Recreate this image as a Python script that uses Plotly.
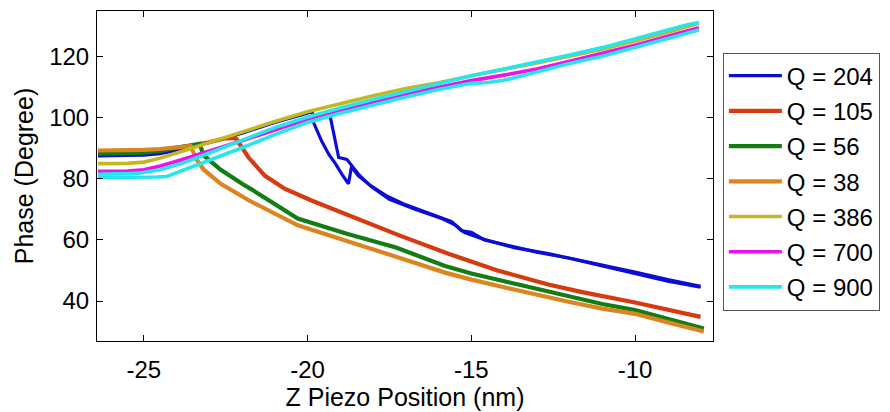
import plotly.graph_objects as go

# ---------------- data ----------------
q_labels = ["Q = 204", "Q = 105", "Q = 56", "Q = 38", "Q = 386", "Q = 700", "Q = 900"]
colors = ["#0c0cd6", "#d83a10", "#137d13", "#dc8420", "#c2b820", "#f010ee", "#26e6ea"]

# Q = 204 : approach (upper branch, jump, lower branch) and second (retract) lower branch
q204_x = [-26.4, -25.5, -25, -24.5, -24, -23.5, -23, -22, -21, -20.2, -19.85, -19.82, -19.57, -19.35,
          -19.15, -18.95, -18.75, -18.66, -18.45, -18.1, -17.6, -17.0, -16.5, -16.0, -15.6, -15.3,
          -15.0, -14.6, -14.0, -13.5, -13.0, -12.5, -12.0, -11.0, -10.0, -9.0, -8.0]
q204_y = [87.5, 87.6, 87.8, 88.3, 89.5, 90.5, 92, 95, 98.5, 101, 102, 98.5, 92.4, 88,
          85, 81.5, 78.4, 84, 81, 78, 74.5, 71.5, 69.5, 67.5, 66, 63,
          62.5, 60, 58.5, 57, 56, 55, 54, 51.5, 49, 46.5, 44.5]
q204b_x = [-8.0, -9.0, -10.0, -11.0, -12.0, -12.65, -13.7, -14.7, -15.2, -15.5, -15.9, -16.7,
           -17.5, -18.05, -18.45, -18.8, -19.05, -19.3, -19.32]
q204b_y = [44.8, 47, 49.5, 51.8, 54.2, 55.5, 57.5, 60.5, 62.4, 65, 67, 70,
           73.3, 77.4, 81.6, 86.4, 87, 99.5, 101]

# Q = 105
q105_x = [-26.4, -25.5, -25, -24.5, -24, -23.5, -23, -22.5, -22.2, -21.8, -21.3, -20.7, -19.9,
          -18.75, -17.2, -15.7, -14.2, -12.65, -11.65, -10.0, -9.0, -8.0]
q105_y = [88.8, 88.9, 89.1, 89.5, 90.2, 91, 92, 93.3, 93.4, 87, 81, 76.8, 73,
          68, 61.5, 55.5, 50, 45.4, 43, 39.5, 37, 34.8]

# Q = 56
q56_x = [-26.4, -25.5, -25, -24.5, -24, -23.6, -23.3, -23.17, -22.65, -22.0, -21.7, -20.3, -18.8,
         -17.3, -15.8, -15.0, -14.0, -13.0, -12.0, -11.0, -10.0, -9.0, -7.9]
q56_y = [88.3, 88.4, 88.6, 89.2, 90.2, 91, 91.5, 87.7, 83, 78.4, 76.5, 67, 62,
         57.5, 51.5, 49, 46.5, 44, 41.5, 39, 37, 34, 31]

# Q = 38
q38_x = [-26.4, -25.5, -25, -24.5, -24, -23.8, -23.57, -23.4, -23.17, -22.65, -21.8, -20.3, -18.8,
         -17.3, -15.8, -15.0, -14.0, -13.0, -12.0, -11.0, -10.0, -9.0, -7.9]
q38_y = [89.3, 89.3, 89.5, 89.8, 90.2, 90.5, 90.8, 86.5, 83, 78.4, 73, 64.8, 59.5,
         54.5, 49.3, 47, 44.5, 42, 39.7, 37.5, 35.8, 33, 30]

# Q = 386
q386_x = [-26.4, -25.5, -25, -24.5, -24, -23, -22, -21, -20, -19, -18, -17, -16, -15, -14,
          -13, -12, -11, -10, -9, -8.05]
q386_y = [85, 85.1, 85.5, 86.8, 88.5, 92, 95.3, 98.8, 102, 104.7, 107.2, 109.6, 111.5, 113.8, 115.8,
          118, 120.2, 122.5, 125.2, 128, 131]

# Q = 700
q700_x = [-26.4, -25.5, -25, -24.5, -24, -23, -22, -21, -20, -19, -18, -17, -16, -15, -14,
          -13, -12, -11, -10, -9, -8.05]
q700_y = [82.5, 82.6, 83, 84.2, 85.8, 89, 92.5, 96, 99.6, 102.5, 105.2, 107.8, 110, 112.2, 114,
          116, 118.5, 121, 123.8, 126.7, 129.5]

# Q = 900 : approach and retract
q900_x = [-26.4, -25.5, -25, -24.6, -24.3, -24, -23.5, -23, -22, -21, -20, -19, -18, -17, -16,
          -15, -14.5, -14, -13, -12, -11, -10, -9, -8.05]
q900_y = [80.5, 80.5, 80.5, 80.6, 80.8, 82, 84, 86.2, 90.2, 94.5, 98.5, 101.5, 104.3, 106.8, 109.3,
          111.3, 111.6, 112.3, 115, 117.8, 120.2, 123, 126, 128.8]
q900r_x = [-8.05, -8.4, -9, -10, -11, -12, -13, -14, -15, -16, -17, -18, -19, -20, -21, -22, -23,
           -23.8, -24.5, -25.2, -26.4]
q900r_y = [131.2, 130.5, 128.8, 125.8, 123, 120.6, 118.2, 116, 113.8, 111.3, 108.7, 106, 103.2,
           100.3, 96.8, 92.8, 88.5, 85.2, 83, 81.8, 81.5]

x_ticks = [-25, -20, -15, -10]
y_ticks = [40, 60, 80, 100, 120]

# ---------------- figure ----------------
series = [
    (0, [(q204_x, q204_y), (q204b_x, q204b_y)]),
    (1, [(q105_x, q105_y)]),
    (2, [(q56_x, q56_y)]),
    (3, [(q38_x, q38_y)]),
    (4, [(q386_x, q386_y)]),
    (5, [(q700_x, q700_y)]),
    (6, [(q900_x, q900_y), (q900r_x, q900r_y)]),
]
widths = [3.2, 4.2, 4.2, 4.2, 3.6, 3.6, 3.6]

fig = go.Figure()
for idx, parts in series:
    for k, (xs, ys) in enumerate(parts):
        fig.add_trace(go.Scatter(
            x=xs, y=ys, mode="lines",
            line=dict(color=colors[idx], width=widths[idx]),
            name=q_labels[idx], legendgroup=q_labels[idx],
            showlegend=(k == 0),
        ))

font_family = "Liberation Sans, Arial, sans-serif"
axis_common = dict(
    showgrid=False, zeroline=False, showline=True, linecolor="black", linewidth=1,
    mirror="ticks", ticks="inside", ticklen=6, tickcolor="black", tickwidth=1,
    tickfont=dict(family=font_family, size=24, color="black"),
)

fig.update_layout(
    width=890, height=412,
    margin=dict(l=97, r=175, t=10, b=64),
    paper_bgcolor="white", plot_bgcolor="white",
    font=dict(family=font_family, size=24, color="black"),
    xaxis=dict(range=[-26.43, -7.62], tickvals=x_ticks, ticktext=[str(v) for v in x_ticks],
               title=dict(text="Z Piezo Position (nm)", standoff=2,
                          font=dict(family=font_family, size=25, color="black")),
               ticklabelstandoff=7, **axis_common),
    yaxis=dict(range=[26.9, 135.0], tickvals=y_ticks, ticktext=[str(v) for v in y_ticks],
               title=dict(text="Phase (Degree)", standoff=8,
                          font=dict(family=font_family, size=25, color="black")),
               ticklabelstandoff=2, **axis_common),
    legend=dict(x=1.016, xanchor="left", y=0.874, yanchor="top",
                bordercolor="#555555", borderwidth=1, bgcolor="white",
                font=dict(family=font_family, size=24, color="black"),
                traceorder="grouped", tracegroupgap=1, itemwidth=53),
    showlegend=True,
)

fig.write_html("out.html")
